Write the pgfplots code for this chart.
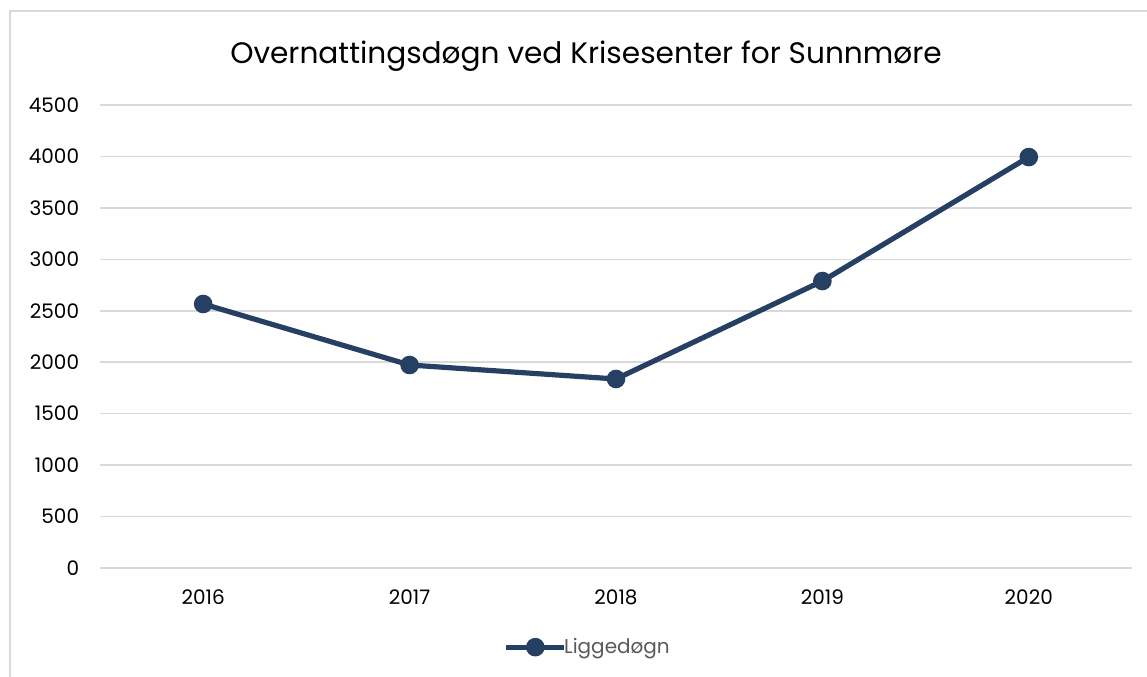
\documentclass[border=0pt]{standalone}
\usepackage{pgfplots}
\pgfplotsset{compat=1.18}
\usepackage{fontspec}
\setmainfont{Poppins}
\definecolor{serie}{HTML}{264064}
\definecolor{gridc}{HTML}{D9D9D9}
\definecolor{legc}{HTML}{595959}
\begin{document}
\begin{tikzpicture}[x=1pt,y=1pt]
\useasboundingbox (0,0) rectangle (860.25,507.75);
\draw[gridc, line width=1pt] (7.5,0) -- (7.5,499.5) -- (870,499.5);
\node[anchor=base, font=\fontsize{22.2}{27}\selectfont] at (439.5,459.75) {Overnattingsdøgn ved Krisesenter for Sunnmøre};
\begin{axis}[
  at={(75pt,81.75pt)}, anchor=south west,
  scale only axis, width=774pt, height=347.25pt,
  xmin=-0.5, xmax=4.5, ymin=0, ymax=4500,
  xtick={0,1,2,3,4}, xticklabels={2016,2017,2018,2019,2020},
  ytick={0,500,...,4500},
  axis line style={draw=none},
  major tick length=0pt,
  ymajorgrids, grid style={gridc, line width=1.1pt},
  /pgf/number format/assume math mode=true,
  /pgf/number format/1000 sep={},
  tick label style={font=\fontsize{15}{18}\selectfont, text=black},
  yticklabel style={inner sep=0pt, xshift=-15.5pt},
  xticklabel style={inner sep=0pt, yshift=-16pt},
  legend style={at={(0.473,-0.171)}, anchor=center, draw=none, fill=none,
    inner sep=0pt, font=\fontsize{15}{18}\selectfont, text=legc},
  legend image code/.code={
    \draw[serie, line width=3.75pt] (0pt,0pt) -- (43.5pt,0pt);
    \fill[serie] (21.75pt,0pt) circle (5pt);},
  legend cell align=left,
]
\addplot[serie, line width=3.9pt, mark=*, mark size=5pt, mark options={fill=serie, draw=serie}]
  coordinates {(0,2566) (1,1973) (2,1837) (3,2789) (4,3994)};
\addlegendentry{\hspace{-4pt}Liggedøgn}
\end{axis}
\end{tikzpicture}
\end{document}
